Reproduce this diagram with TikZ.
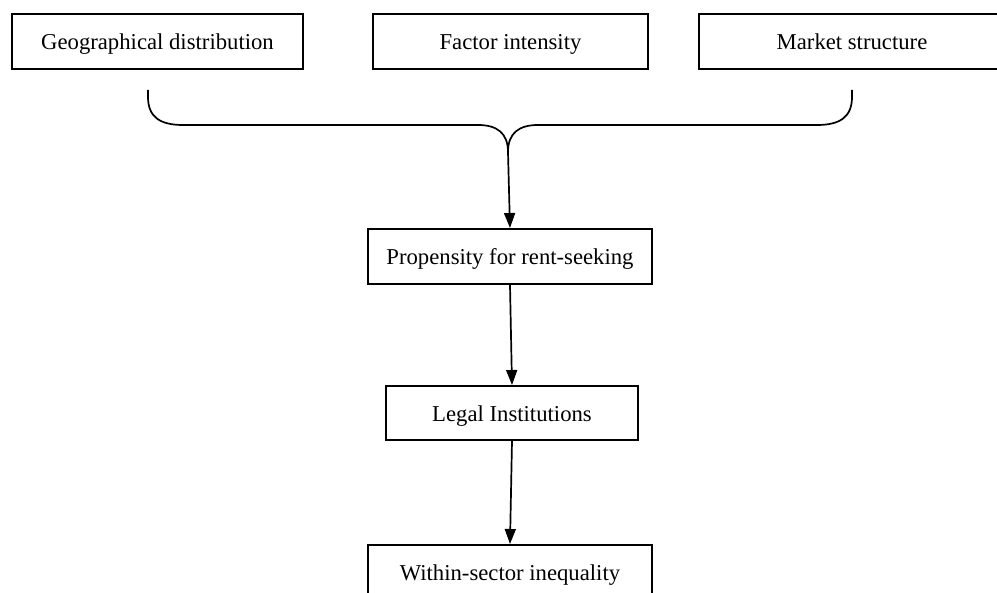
\documentclass[tikz,border=0pt]{standalone}
\usepackage{fontspec}
\setmainfont{Liberation Serif}
\usetikzlibrary{arrows.meta}
\begin{document}
\begin{tikzpicture}[x=1pt,y=-1pt,
  box/.style={draw, line width=2pt, inner sep=0pt, minimum height=55pt,
    text height=20pt, text depth=3pt,
    font=\fontsize{22.7}{27}\selectfont},
  conn/.style={line width=1.7pt},
  arr/.style={line width=1.7pt, -{Triangle[length=15pt,width=11pt]}}]
\useasboundingbox (0,0) rectangle (997,593);
\clip (0,0) rectangle (997,593);
\node[box, minimum width=291pt] (geo) at (157.5,41.5) {Geographical distribution};
\node[box, minimum width=275pt] (fac) at (510.5,41.5) {Factor intensity};
\node[box, minimum width=306pt] (mar) at (852,41.5) {Market structure};
\node[box, minimum width=284pt] (pro) at (510,256.5) {Propensity for rent-seeking};
\node[box, minimum width=252pt, minimum height=54pt] (leg) at (512,413) {Legal Institutions};
\node[box, minimum width=284pt] (win) at (510,572.5) {Within-sector inequality};
\coordinate (bl) at (148,90);
\coordinate (br) at (852,90);
\coordinate (cusp) at (508,152);
\draw[conn] (bl) -- (148,97) .. controls (148,117) and (160,125) .. (183,125) -- (478,125)
  .. controls (497,125) and (508,133) .. (cusp);
\draw[conn] (br) -- (852,97) .. controls (852,117) and (840,125) .. (817,125) -- (538,125)
  .. controls (519,125) and (508,133) .. (cusp);
\draw[arr] (cusp) -- (pro.north);
\draw[arr] (pro.south) -- (leg.north);
\draw[arr] (leg.south) -- (win.north);
\end{tikzpicture}
\end{document}
